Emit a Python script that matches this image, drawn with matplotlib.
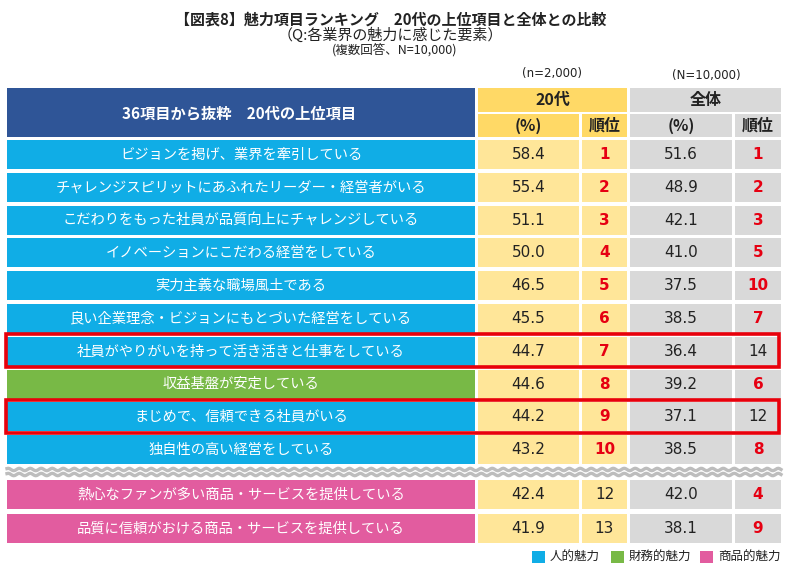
import numpy as np
import matplotlib
matplotlib.use("Agg")
from matplotlib import pyplot as plt
from matplotlib.patches import Rectangle

plt.rcParams['font.family'] = ['Noto Sans CJK JP', 'DejaVu Sans']

## data
items = [
    'ビジョンを掲げ、業界を牽引している',
    'チャレンジスピリットにあふれたリーダー・経営者がいる',
    'こだわりをもった社員が品質向上にチャレンジしている',
    'イノベーションにこだわる経営をしている',
    '実力主義な職場風土である',
    '良い企業理念・ビジョンにもとづいた経営をしている',
    '社員がやりがいを持って活き活きと仕事をしている',
    '収益基盤が安定している',
    'まじめで、信頼できる社員がいる',
    '独自性の高い経営をしている',
    '熱心なファンが多い商品・サービスを提供している',
    '品質に信頼がおける商品・サービスを提供している',
]
# 人 = human, 財 = financial, 商 = product
kinds = ['人', '人', '人', '人', '人', '人', '人', '財', '人', '人', '商', '商']
pct20 = [58.4, 55.4, 51.1, 50.0, 46.5, 45.5, 44.7, 44.6, 44.2, 43.2, 42.4, 41.9]
rank20 = [1, 2, 3, 4, 5, 6, 7, 8, 9, 10, 12, 13]
pctAll = [51.6, 48.9, 42.1, 41.0, 37.5, 38.5, 36.4, 39.2, 37.1, 38.5, 42.0, 38.1]
rankAll = [1, 2, 3, 5, 10, 7, 14, 6, 12, 8, 4, 9]
highlighted = [6, 8]

legendLabels = ['人的魅力', '財務的魅力', '商品的魅力']
kindColors = {'人': '#10ADE6', '財': '#78B946', '商': '#E25C9F'}

## style
navy = '#2F5597'
yellowHead = '#FFD966'
yellowCell = '#FFE699'
greyCell = '#D9D9D9'
red = '#E60012'
ink = '#222222'

# figure in pixel coordinates
fig = plt.figure(figsize=(8.0, 5.73), dpi=100)
ax = fig.add_axes([0, 0, 1, 1])
ax.set_xlim(0, 800)
ax.set_ylim(573, 0)
ax.axis('off')

# column edges (x0, x1)
colLabel = (7, 475)
colP20 = (478, 579)
colR20 = (582, 627)
colPAll = (630, 732)
colRAll = (735, 781)

def box(x0, x1, y0, y1, color):
    ax.add_patch(Rectangle((x0, y0), x1 - x0, y1 - y0, facecolor=color, edgecolor='none'))

def cx(col):
    return (col[0] + col[1]) / 2

## titles
ax.text(391, 19, '【図表8】魅力項目ランキング　20代の上位項目と全体との比較',
        ha='center', va='center', fontsize=10.8, fontweight='bold', color=ink)
ax.text(390, 35, '（Q:各業界の魅力に感じた要素）', ha='center', va='center', fontsize=10.8, color=ink)
ax.text(395, 50, '(複数回答、N=10,000)', ha='center', va='center', fontsize=9, color=ink)
ax.text(552, 74, '(n=2,000)', ha='center', va='center', fontsize=8.5,
        family='DejaVu Sans', color=ink)
ax.text(706, 75, '(N=10,000)', ha='center', va='center', fontsize=8.5,
        family='DejaVu Sans', color=ink)

## header
box(colLabel[0], colLabel[1], 88, 137, navy)
ax.text(cx(colLabel) - 2, 113, '36項目から抜粋　20代の上位項目', ha='center', va='center',
        fontsize=11, fontweight='bold', color='white')
box(colP20[0], colR20[1], 88, 112, yellowHead)
box(colPAll[0], colRAll[1], 88, 112, greyCell)
ax.text(cx((colP20[0], colR20[1])), 100, '20代', ha='center', va='center', fontsize=11.5, fontweight='bold', color=ink)
ax.text(cx((colPAll[0], colRAll[1])), 100, '全体', ha='center', va='center', fontsize=11.5, fontweight='bold', color=ink)
for col, color, label in [(colP20, yellowHead, '(%)'), (colR20, yellowHead, '順位'),
                          (colPAll, greyCell, '(%)'), (colRAll, greyCell, '順位')]:
    box(col[0], col[1], 114, 137, color)
    ax.text(cx(col), 126, label, ha='center', va='center', fontsize=11.5, fontweight='bold', color=ink)

## rows
rowTops = [140 + 32.8 * i for i in range(10)] + [480 + 33.8 * i for i in range(2)]
rowH = 29

for i, name in enumerate(items):
    y0 = rowTops[i]
    y1 = y0 + rowH
    ym = (y0 + y1) / 2
    box(colLabel[0], colLabel[1], y0, y1, kindColors[kinds[i]])
    ax.text(cx(colLabel), ym, name, ha='center', va='center', fontsize=10.3, color='white')
    box(colP20[0], colP20[1], y0, y1, yellowCell)
    box(colR20[0], colR20[1], y0, y1, yellowCell)
    box(colPAll[0], colPAll[1], y0, y1, greyCell)
    box(colRAll[0], colRAll[1], y0, y1, greyCell)
    ax.text(cx(colP20), ym, f'{pct20[i]:.1f}', ha='center', va='center',
            fontsize=11, family='DejaVu Sans', color=ink)
    ax.text(cx(colPAll), ym, f'{pctAll[i]:.1f}', ha='center', va='center',
            fontsize=11, family='DejaVu Sans', color=ink)
    for col, r in [(colR20, rank20[i]), (colRAll, rankAll[i])]:
        top = r <= 10
        ax.text(cx(col), ym, str(r), ha='center', va='center', fontsize=11,
                family='DejaVu Sans', fontweight='bold' if top else 'normal',
                color=red if top else ink)

# red frames around highlighted rows
for i in highlighted:
    y0 = rowTops[i] - 2.5
    y1 = rowTops[i] + rowH + 1.5
    ax.add_patch(Rectangle((6, y0), 773, y1 - y0, facecolor='none',
                           edgecolor='#E8000B', linewidth=2.6, zorder=5))

# wavy separator
xWave = np.linspace(7, 781, 600)
for yBase in [469.5, 474.5]:
    ax.plot(xWave, yBase + 1.2 * np.sin(xWave * 2 * np.pi / 11), color='#BDBDBD', linewidth=2.4)

## legend
legendX = [532, 611, 700]
for x, label, kind in zip(legendX, legendLabels, ['人', '財', '商']):
    box(x, x + 13, 551, 563, kindColors[kind])
    ax.text(x + 18, 557, label, ha='left', va='center', fontsize=9, color=ink)

fig.savefig('out.png', dpi=100)
